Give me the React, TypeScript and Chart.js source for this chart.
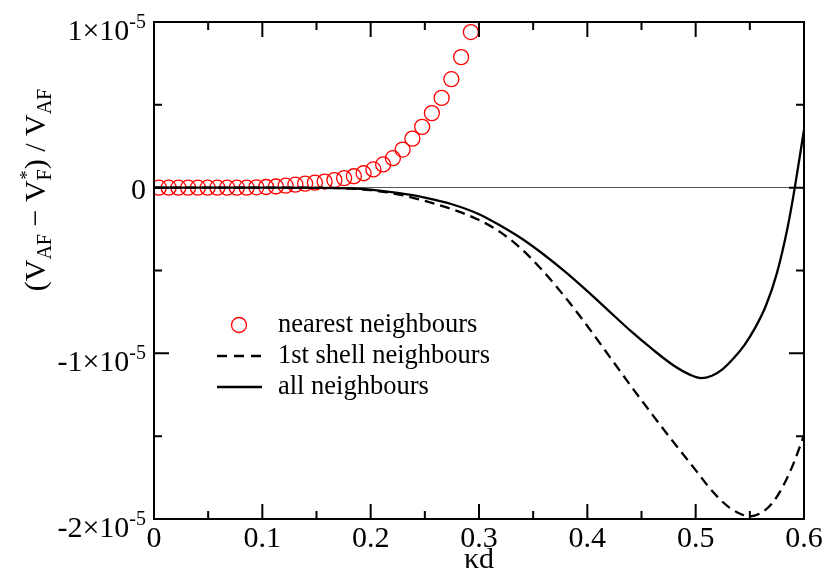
import React, { useEffect, useRef } from 'react';
import { Chart, registerables } from 'chart.js';

Chart.register(...registerables);

const SCALE = 1e-5;

// nearest neighbours (circles), y in units of 1e-5
const nearestX = [
  0.0045, 0.0135, 0.0225, 0.0315, 0.0405, 0.0495, 0.0585, 0.0675, 0.0765, 0.0855,
  0.0945, 0.1035, 0.1125, 0.1215, 0.1305, 0.1395, 0.1485, 0.1575, 0.1665, 0.1755,
  0.1845, 0.1935, 0.2025, 0.2115, 0.2205, 0.2295, 0.2385, 0.2475, 0.2565, 0.2655,
  0.2745, 0.2835, 0.2925,
];
const nearestY = [
  0, 0, 0, 0, 0, 0, 0, 0, 0, 0,
  0.002, 0.004, 0.007, 0.012, 0.018, 0.024, 0.030, 0.037, 0.046, 0.057,
  0.069, 0.087, 0.110, 0.140, 0.178, 0.230, 0.296, 0.367, 0.450, 0.542,
  0.655, 0.788, 0.939,
];

// 1st shell neighbours (dashed), y in units of 1e-5
const shellX = [0, 0.05, 0.10, 0.15, 0.18, 0.20, 0.225, 0.25, 0.275, 0.30, 0.32, 0.34, 0.36, 0.38, 0.40, 0.42, 0.44, 0.46, 0.48, 0.50, 0.51, 0.52, 0.53, 0.54, 0.55, 0.56, 0.57, 0.58, 0.59, 0.60];
const shellY = [0, 0, 0, -0.001, -0.005, -0.015, -0.04, -0.08, -0.13, -0.195, -0.27, -0.375, -0.51, -0.665, -0.835, -1.015, -1.195, -1.37, -1.54, -1.705, -1.79, -1.865, -1.925, -1.965, -1.984, -1.965, -1.91, -1.81, -1.67, -1.494];

// all neighbours (solid), y in units of 1e-5
const allX = [0, 0.05, 0.10, 0.15, 0.18, 0.20, 0.225, 0.25, 0.275, 0.30, 0.32, 0.34, 0.36, 0.38, 0.40, 0.42, 0.44, 0.46, 0.48, 0.495, 0.505, 0.515, 0.525, 0.535, 0.545, 0.555, 0.565, 0.575, 0.585, 0.5915, 0.60];
const allY = [0, 0, 0, -0.001, -0.004, -0.012, -0.032, -0.06, -0.10, -0.16, -0.23, -0.31, -0.405, -0.51, -0.625, -0.745, -0.865, -0.975, -1.075, -1.13, -1.15, -1.135, -1.095, -1.03, -0.95, -0.845, -0.71, -0.516, -0.236, 0.0, 0.35];

const xTickValues = [0, 0.1, 0.2, 0.3, 0.4, 0.5, 0.6];
const xTickLabels = ['0', '0.1', '0.2', '0.3', '0.4', '0.5', '0.6'];
const xMinorTicks = [0.05, 0.15, 0.25, 0.35, 0.45, 0.55];
const yTickValues = [1, 0, -1, -2];
const yTickMantissa = ['1\u00d710', '0', '-1\u00d710', '-2\u00d710'];
const yTickExponent = ['-5', '', '-5', '-5'];
const yMinorTicks = [0.5, -0.5, -1.5];

const legendLabels = ['nearest neighbours', '1st shell neighbours', 'all neighbours'];

const SERIF = '"Liberation Serif", "Times New Roman", serif';

const overlayPlugin = {
  id: 'overlay',
  afterDraw(chart: any) {
    const { ctx, chartArea: a, scales } = chart;
    const xs = scales.x;
    const ys = scales.y;
    ctx.save();
    ctx.strokeStyle = '#000';
    ctx.lineWidth = 2;
    ctx.setLineDash([]);
    ctx.strokeRect(a.left, a.top, a.right - a.left, a.bottom - a.top);

    // inward ticks on all four sides
    ctx.beginPath();
    const xt = (v: number, len: number) => {
      const px = xs.getPixelForValue(v);
      ctx.moveTo(px, a.bottom); ctx.lineTo(px, a.bottom - len);
      ctx.moveTo(px, a.top); ctx.lineTo(px, a.top + len);
    };
    const yt = (v: number, len: number) => {
      const py = ys.getPixelForValue(v * SCALE);
      ctx.moveTo(a.left, py); ctx.lineTo(a.left + len, py);
      ctx.moveTo(a.right, py); ctx.lineTo(a.right - len, py);
    };
    xTickValues.forEach((v) => xt(v, 15));
    xMinorTicks.forEach((v) => xt(v, 8));
    yTickValues.forEach((v) => yt(v, 15));
    yMinorTicks.forEach((v) => yt(v, 8));
    ctx.stroke();

    // y tick labels with superscripts
    ctx.fillStyle = '#000';
    ctx.textAlign = 'right';
    ctx.textBaseline = 'alphabetic';
    const rightEdge = a.left - 8;
    yTickValues.forEach((v, i) => {
      const py = ys.getPixelForValue(v * SCALE);
      const exp = yTickExponent[i];
      if (!exp) {
        ctx.font = `30px ${SERIF}`;
        ctx.fillText(yTickMantissa[i], rightEdge, py + 11);
      } else {
        ctx.font = `20px ${SERIF}`;
        const ew = ctx.measureText(exp).width;
        ctx.fillText(exp, rightEdge, py + 6);
        ctx.font = `30px ${SERIF}`;
        ctx.fillText(yTickMantissa[i], rightEdge - ew, py + 18);
      }
    });

    // y axis title with sub/superscripts
    ctx.save();
    ctx.translate(45, 190);
    ctx.rotate(-Math.PI / 2);
    ctx.textAlign = 'left';
    const parts: { t: string; k: 'n' | 'sub' | 'subsup' }[] = [
      { t: '(V', k: 'n' },
      { t: 'AF', k: 'sub' },
      { t: ' \u2212 V', k: 'n' },
      { t: 'F', k: 'subsup' },
      { t: ') / V', k: 'n' },
      { t: 'AF', k: 'sub' },
    ];
    const widthOf = (p: { t: string; k: string }) => {
      ctx.font = p.k === 'n' ? `30px ${SERIF}` : `20px ${SERIF}`;
      return ctx.measureText(p.t).width;
    };
    const total = parts.reduce((s, p) => s + widthOf(p), 0);
    let cx = -total / 2;
    parts.forEach((p) => {
      const w = widthOf(p);
      if (p.k === 'n') {
        ctx.font = `30px ${SERIF}`;
        ctx.fillText(p.t, cx, 0);
      } else {
        ctx.font = `20px ${SERIF}`;
        ctx.fillText(p.t, cx, 6);
        if (p.k === 'subsup') {
          ctx.font = `18px ${SERIF}`;
          ctx.fillText('*', cx + 1, -12);
        }
      }
      cx += w;
    });
    ctx.restore();

    // legend
    const rows = [325, 356, 387];
    const sx0 = 217, sx1 = 262, scx = 239;
    ctx.strokeStyle = '#ff0000';
    ctx.lineWidth = 1.3;
    ctx.beginPath();
    ctx.arc(scx, rows[0], 7.5, 0, Math.PI * 2);
    ctx.stroke();
    ctx.strokeStyle = '#000';
    ctx.lineWidth = 2.3;
    ctx.setLineDash([10, 7]);
    ctx.beginPath();
    ctx.moveTo(sx0, rows[1]); ctx.lineTo(sx1, rows[1]);
    ctx.stroke();
    ctx.setLineDash([]);
    ctx.beginPath();
    ctx.moveTo(sx0, rows[2]); ctx.lineTo(sx1, rows[2]);
    ctx.stroke();
    ctx.font = `26.5px ${SERIF}`;
    ctx.textAlign = 'left';
    legendLabels.forEach((l, i) => ctx.fillText(l, 278, rows[i] + 7));
    ctx.restore();
  },
};

export default function App() {
  const ref = useRef<HTMLCanvasElement>(null);
  useEffect(() => {
    const canvas = ref.current;
    if (!canvas) return;
    const chart = new Chart(canvas, {
      type: 'line',
      data: {
        datasets: [
          {
            label: legendLabels[2],
            data: allX.map((x, i) => ({ x, y: allY[i] * SCALE })),
            borderColor: '#000',
            borderWidth: 2.3,
            pointRadius: 0,
            fill: false,
            cubicInterpolationMode: 'monotone',
            order: 0,
          },
          {
            label: legendLabels[1],
            data: shellX.map((x, i) => ({ x, y: shellY[i] * SCALE })),
            borderColor: '#000',
            borderWidth: 2.3,
            borderDash: [10, 6],
            pointRadius: 0,
            fill: false,
            cubicInterpolationMode: 'monotone',
            order: 1,
          },
          {
            label: legendLabels[0],
            data: nearestX.map((x, i) => ({ x, y: nearestY[i] * SCALE })),
            showLine: false,
            pointRadius: 7.5,
            pointBorderWidth: 1.3,
            pointBorderColor: '#ff0000',
            pointBackgroundColor: 'rgba(0,0,0,0)',
            borderColor: '#ff0000',
            order: 2,
          },
        ],
      } as any,
      options: {
        animation: false,
        responsive: false,
        layout: { padding: { left: 0, top: 22, right: 25, bottom: 0 } },
        plugins: { legend: { display: false }, tooltip: { enabled: false } },
        scales: {
          x: {
            type: 'linear',
            min: 0,
            max: 0.6,
            afterFit: (s: any) => { s.height = 64; },
            afterBuildTicks: (s: any) => { s.ticks = xTickValues.map((v) => ({ value: v })); },
            ticks: {
              callback: (_v: any, i: number) => xTickLabels[i],
              font: { family: SERIF, size: 30 },
              color: '#000',
              padding: 2,
              maxRotation: 0,
              autoSkip: false,
            },
            grid: { display: false, drawTicks: false },
            border: { display: false },
            title: {
              display: true,
              text: '\u03bad',
              color: '#000',
              font: { family: SERIF, size: 30 },
              padding: { top: 0, bottom: 5 },
            },
          },
          y: {
            type: 'linear',
            min: -2 * SCALE,
            max: 1 * SCALE,
            afterFit: (s: any) => { s.width = 154; },
            afterBuildTicks: (s: any) => { s.ticks = yTickValues.map((v) => ({ value: v * SCALE })); },
            ticks: { display: false },
            grid: {
              drawTicks: false,
              lineWidth: 1,
              color: (c: any) => (c.tick && Math.abs(c.tick.value) < 1e-12 ? '#555' : 'rgba(0,0,0,0)'),
            },
            border: { display: false },
          },
        },
      } as any,
      plugins: [overlayPlugin],
    });
    return () => chart.destroy();
  }, []);
  return (
    <div style={{ position: 'fixed', left: 0, top: 0, width: 829, height: 583, background: '#fff' }}>
      <canvas ref={ref} width={829} height={583} style={{ display: 'block' }} />
    </div>
  );
}
